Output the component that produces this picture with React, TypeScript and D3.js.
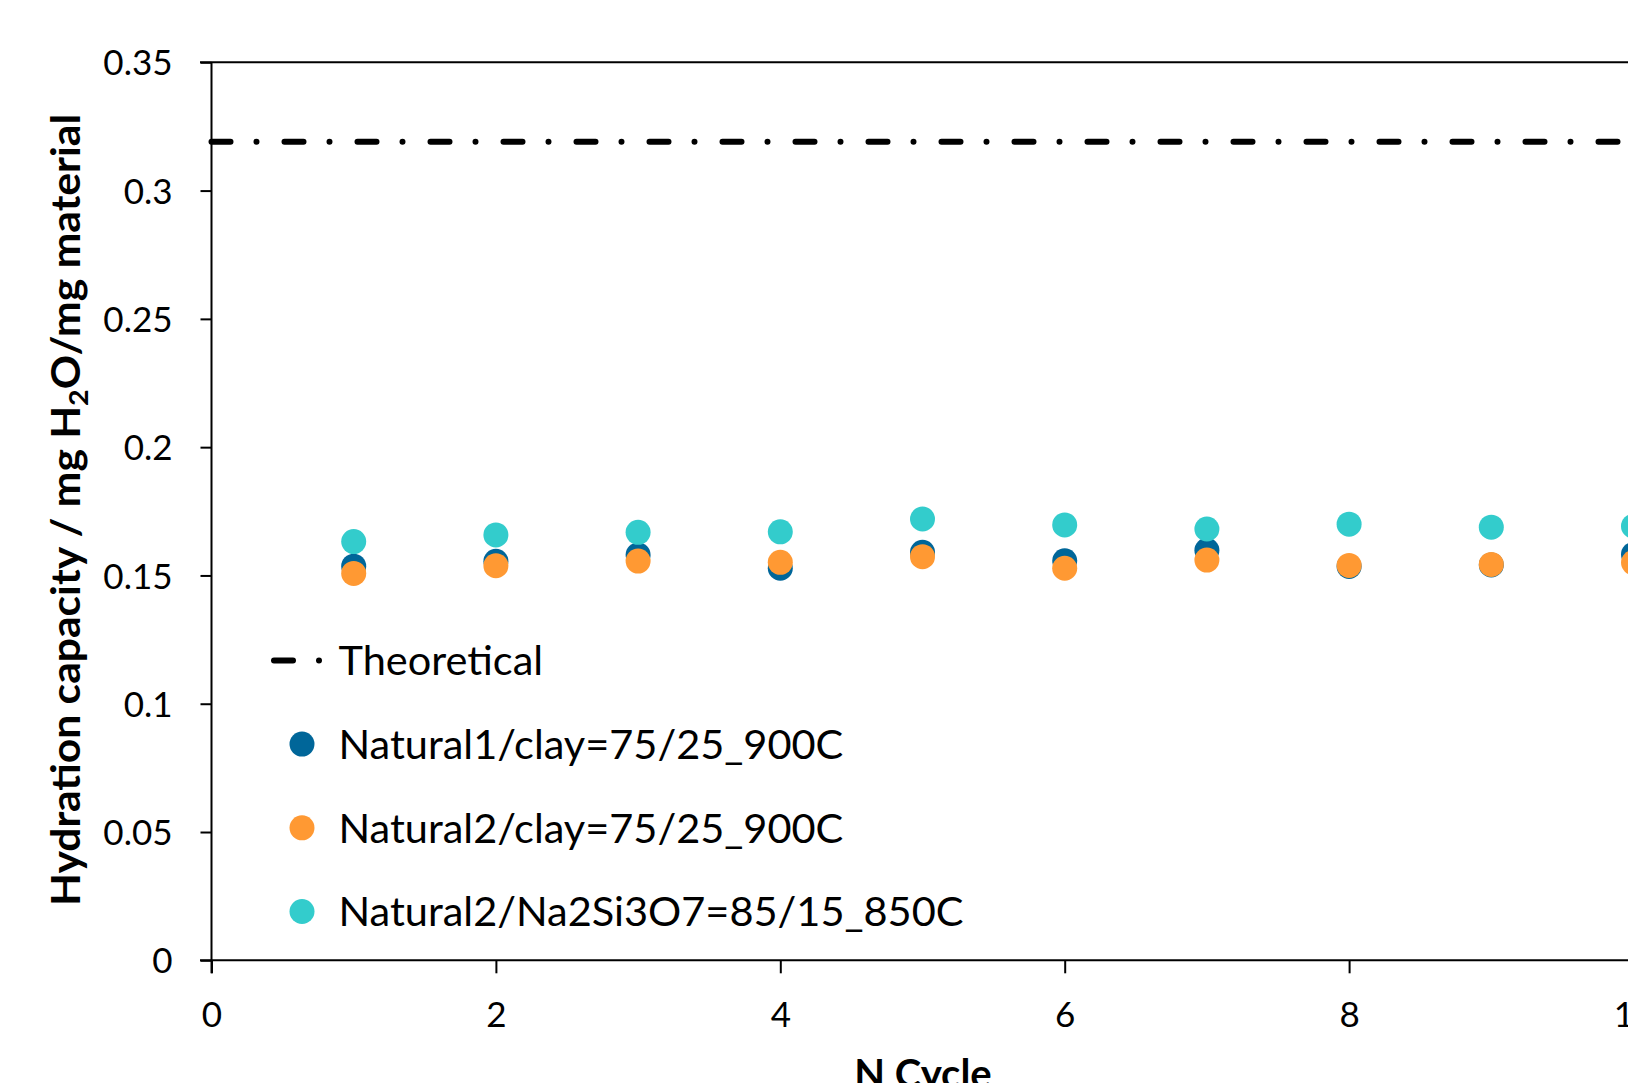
import { useEffect, useRef } from 'react';
import * as d3 from 'd3';

// cycle numbers and hydration capacity (mg H2O / mg material)
const cycles = [1, 2, 3, 4, 5, 6, 7, 8, 9, 10];
const natural1Clay = [0.1536, 0.1555, 0.158, 0.1528, 0.159, 0.1557, 0.1598, 0.1535, 0.1541, 0.1582];
const natural2Clay = [0.1508, 0.1538, 0.1556, 0.1551, 0.1573, 0.1528, 0.156, 0.1539, 0.1543, 0.155];
const natural2Na = [0.1632, 0.1658, 0.1668, 0.167, 0.172, 0.1697, 0.1681, 0.17, 0.1688, 0.1692];
const theoretical = 0.319;

const xTicks = [0, 2, 4, 6, 8, 10];
const yTicks = [0, 0.05, 0.1, 0.15, 0.2, 0.25, 0.3, 0.35];

const series = [
  { name: 'Natural1/clay=75/25_900C', values: natural1Clay, color: '#006699' },
  { name: 'Natural2/clay=75/25_900C', values: natural2Clay, color: '#ff9933' },
  { name: 'Natural2/Na2Si3O7=85/15_850C', values: natural2Na, color: '#33cccc' },
];

const FONT = 'Lato, "Open Sans", sans-serif';

export default function App() {
  const width = 1628;
  const height = 1083;
  const left = 211.5;
  const top = 62.3;
  const bottom = 960.3;
  const right = 1633.5;
  const r = 12.5;
  const dash = '19 26 0 28';

  const x = d3.scaleLinear().domain([0, 10]).range([left, right]);
  const y = d3.scaleLinear().domain([0, 0.35]).range([bottom, top]);

  const gx = useRef<SVGGElement>(null);
  const gy = useRef<SVGGElement>(null);

  useEffect(() => {
    if (gx.current) {
      const g = d3.select(gx.current);
      g.call(d3.axisBottom(x).tickValues(xTicks).tickSize(13).tickPadding(29).tickFormat(d => String(d)));
      g.select('.domain').remove();
      g.selectAll('line').attr('stroke', '#000').attr('stroke-width', 2);
      g.selectAll('text').attr('font-size', 35).attr('font-family', FONT).attr('fill', '#000');
    }
    if (gy.current) {
      const g = d3.select(gy.current);
      g.call(d3.axisLeft(y).tickValues(yTicks).tickSize(11).tickPadding(28).tickFormat(d => String(d)));
      g.select('.domain').remove();
      g.selectAll('line').attr('stroke', '#000').attr('stroke-width', 2);
      g.selectAll('text').attr('font-size', 35).attr('font-family', FONT).attr('fill', '#000').attr('dy', '0.36em');
    }
  }, [x, y]);

  // legend rows: theoretical line first, then the three marker series
  const legendY = (i: number) => 660.4 + i * 83.7;

  return (
    <div style={{ position: 'fixed', left: 0, top: 0 }}>
      <svg width={width} height={height} style={{ display: 'block', background: '#fff' }} fontFamily={FONT}>
        {/* frame */}
        <line x1={200} x2={width + 20} y1={top} y2={top} stroke="#000" strokeWidth={2} />
        <line x1={200} x2={width + 20} y1={bottom} y2={bottom} stroke="#000" strokeWidth={2} />
        <line x1={left} x2={left} y1={top} y2={bottom + 13} stroke="#000" strokeWidth={2} />
        <line x1={right} x2={right} y1={top} y2={bottom} stroke="#000" strokeWidth={2} />

        <g ref={gx} transform={`translate(0,${bottom})`} />
        <g ref={gy} transform={`translate(${left},0)`} />

        {/* theoretical capacity */}
        <line
          x1={x(0)} x2={x(10)} y1={y(theoretical)} y2={y(theoretical)}
          stroke="#000" strokeWidth={6} strokeLinecap="round" strokeDasharray={dash}
        />

        {series.map(s => (
          <g key={s.name} fill={s.color}>
            {s.values.map((v, i) => (
              <circle key={i} cx={x(cycles[i])} cy={y(v)} r={r} />
            ))}
          </g>
        ))}

        {/* legend */}
        <g fontSize={41.5} fill="#000">
          <line x1={274} x2={322} y1={legendY(0)} y2={legendY(0)} stroke="#000" strokeWidth={6}
            strokeLinecap="round" strokeDasharray={dash} />
          <text x={338.5} y={legendY(0)} dy="0.36em">Theoretical</text>
          {series.map((s, i) => (
            <g key={s.name}>
              <circle cx={302} cy={legendY(i + 1)} r={r} fill={s.color} />
              <text x={338.5} y={legendY(i + 1)} dy="0.36em">{s.name}</text>
            </g>
          ))}
        </g>

        {/* axis titles */}
        <text transform="translate(80,510) rotate(-90)" textAnchor="middle" fontWeight="bold" fontSize={40}
          textLength={792} lengthAdjust="spacingAndGlyphs">
          Hydration capacity / mg H<tspan dy={8} fontSize={27}>2</tspan><tspan dy={-8}>O/mg material</tspan>
        </text>
        <text x={923} y={1088} textAnchor="middle" fontWeight="bold" fontSize={40}>N Cycle</text>
      </svg>
    </div>
  );
}
